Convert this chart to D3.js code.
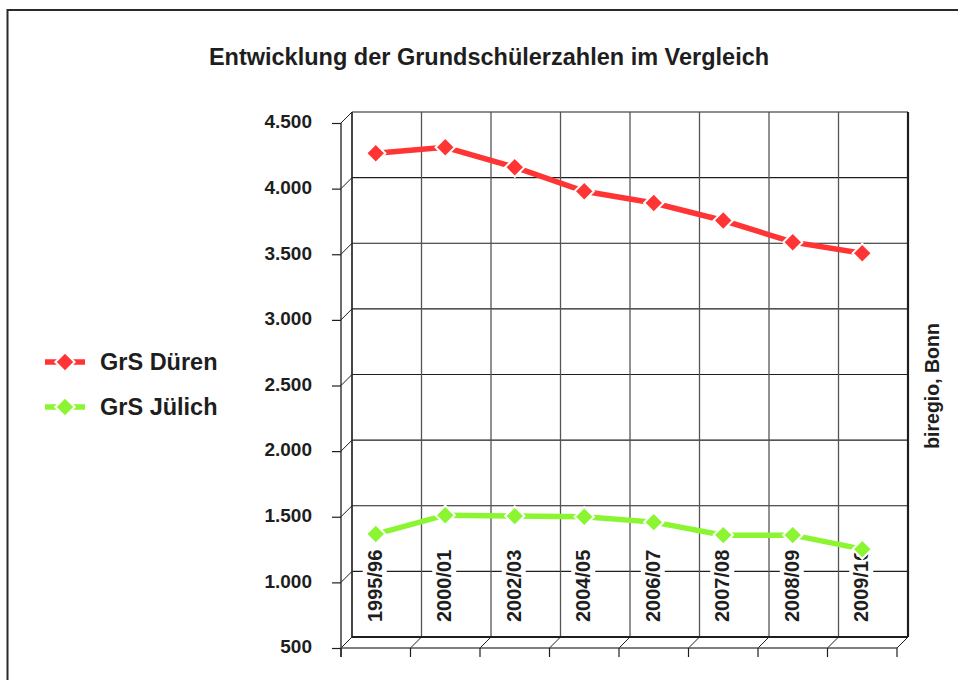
<!DOCTYPE html>
<html>
<head>
<meta charset="utf-8">
<script src="https://cdn.jsdelivr.net/npm/d3@7"></script>
<style>
  html, body { margin: 0; padding: 0; background: #fff; }
  svg { display: block; }
  text { font-family: "Liberation Sans", Arial, sans-serif; font-weight: bold; fill: #1e1e1e; }
</style>
</head>
<body>
<script>
// ---- data ----
const categories = ["1995/96", "2000/01", "2002/03", "2004/05", "2006/07", "2007/08", "2008/09", "2009/10"];
const dueren = [4270, 4315, 4163, 3980, 3890, 3757, 3592, 3508];
const juelich = [1368, 1512, 1505, 1500, 1459, 1360, 1360, 1253];
const seriesNames = ["GrS Düren", "GrS Jülich"];
const seriesColors = ["#ff3535", "#8cf532"];
const yTicks = [500, 1000, 1500, 2000, 2500, 3000, 3500, 4000, 4500];
const title = "Entwicklung der Grundschülerzahlen im Vergleich";
const source = "biregio, Bonn";

// ---- layout ----
const W = 958, H = 680;
const back = { left: 352, right: 908, top: 112, bottom: 637 };
const depth = 11;

const svg = d3.select("body").append("svg").attr("width", W).attr("height", H);
svg.append("rect").attr("width", W).attr("height", H).attr("fill", "#fff");

// outer frame
svg.append("rect").attr("x", 7.5).attr("y", 10).attr("width", 980).attr("height", 700)
  .attr("fill", "none").attr("stroke", "#2a2a2a").attr("stroke-width", 2);

const de = d3.formatLocale({ decimal: ",", thousands: ".", grouping: [3], currency: ["", "€"] });
const fmt = de.format(",");

const x = d3.scaleBand().domain(categories).range([back.left, back.right]);
const y = d3.scaleLinear().domain([500, 4500]).range([back.bottom, back.top]);
const yFront = d3.scaleLinear().domain([500, 4500]).range([back.bottom + depth, back.top + depth]);
const fx = c => x(c) + x.bandwidth() / 2 - depth;

const grid = svg.append("g");
// back wall horizontal gridlines
grid.selectAll("line.h").data(yTicks).join("line")
  .attr("x1", back.left).attr("x2", back.right)
  .attr("y1", d => y(d)).attr("y2", d => y(d))
  .attr("stroke", "#1e1e1e").attr("stroke-width", 1.2);
// back wall vertical gridlines
const bounds = categories.map(c => x(c)).concat([back.right]);
grid.selectAll("line.v").data(bounds).join("line")
  .attr("x1", d => d).attr("x2", d => d)
  .attr("y1", back.top).attr("y2", back.bottom)
  .attr("stroke", (d, i) => i === bounds.length - 1 ? "#1e1e1e" : "#555")
  .attr("stroke-width", (d, i) => i === bounds.length - 1 ? 2.2 : 1.3);
// back bottom edge
grid.append("line").attr("x1", back.left).attr("x2", back.right)
  .attr("y1", back.bottom).attr("y2", back.bottom).attr("stroke", "#1e1e1e").attr("stroke-width", 2.2);
// left wall: back vertical
grid.append("line").attr("x1", back.left).attr("x2", back.left)
  .attr("y1", back.top).attr("y2", back.bottom).attr("stroke", "#1e1e1e").attr("stroke-width", 1.3);
// left wall diagonals
grid.selectAll("line.ld").data(yTicks).join("line")
  .attr("x1", back.left).attr("y1", d => y(d))
  .attr("x2", back.left - depth).attr("y2", d => y(d) + depth)
  .attr("stroke", "#1e1e1e").attr("stroke-width", 1);
// floor diagonals
grid.selectAll("line.fd").data(bounds).join("line")
  .attr("x1", d => d).attr("y1", back.bottom)
  .attr("x2", d => d - depth).attr("y2", back.bottom + depth)
  .attr("stroke", "#1e1e1e").attr("stroke-width", 1);

// front y axis
const yAxis = d3.axisLeft(yFront).tickValues(yTicks).tickFormat(fmt).tickSize(9).tickPadding(20);
const ya = svg.append("g").attr("transform", `translate(${back.left - depth},0)`).call(yAxis);
ya.select(".domain").remove();
ya.selectAll(".tick line").attr("stroke", "#1e1e1e").attr("stroke-width", 1.2);
ya.selectAll(".tick text").attr("font-size", 19).attr("dy", "0.25em")
  .attr("font-family", "Liberation Sans, Arial, sans-serif").attr("font-weight", "bold").attr("fill", "#1e1e1e");
svg.append("line").attr("x1", back.left - depth).attr("x2", back.left - depth)
  .attr("y1", back.top + depth).attr("y2", back.bottom + depth + 9)
  .attr("stroke", "#1e1e1e").attr("stroke-width", 1.3);

// front bottom axis
svg.append("line").attr("x1", back.left - depth).attr("x2", back.right - depth)
  .attr("y1", back.bottom + depth).attr("y2", back.bottom + depth)
  .attr("stroke", "#555").attr("stroke-width", 1.3);
svg.selectAll("line.xt").data(bounds).join("line")
  .attr("x1", d => d - depth).attr("x2", d => d - depth)
  .attr("y1", back.bottom + depth).attr("y2", back.bottom + depth + 9)
  .attr("stroke", "#1e1e1e").attr("stroke-width", 1.2);

// category labels (rotated, white box)
const lab = svg.append("g").selectAll("g").data(categories).join("g")
  .attr("transform", c => `translate(${fx(c) - 1},622) rotate(-90)`);
lab.append("rect").attr("x", -2).attr("y", -12).attr("width", 76).attr("height", 24).attr("fill", "#fff");
lab.append("text").attr("font-size", 20).attr("dy", "0.36em").attr("text-anchor", "start").text(c => c);

// series
const series = [dueren, juelich];
const diamond = d3.symbol().type(d3.symbolSquare).size(185);
series.forEach((vals, si) => {
  const pts = categories.map((c, i) => [fx(c), yFront(vals[i])]);
  svg.append("path").attr("d", d3.line()(pts)).attr("fill", "none")
    .attr("stroke", seriesColors[si]).attr("stroke-width", 5.5);
  svg.append("g").selectAll("path").data(pts).join("path")
    .attr("d", diamond).attr("transform", p => `translate(${p[0]},${p[1]}) rotate(45)`)
    .attr("fill", seriesColors[si]).attr("stroke", "#fff").attr("stroke-width", 2);
});

// legend
const legY = [362, 407];
seriesNames.forEach((name, i) => {
  const g = svg.append("g").attr("transform", `translate(0,${legY[i]})`);
  g.append("line").attr("x1", 45).attr("x2", 85).attr("y1", 0).attr("y2", 0)
    .attr("stroke", seriesColors[i]).attr("stroke-width", 5.5);
  g.append("path").attr("d", diamond).attr("transform", "translate(65,0) rotate(45)")
    .attr("fill", seriesColors[i]).attr("stroke", "#fff").attr("stroke-width", 2);
  g.append("text").attr("x", 100).attr("y", 0).attr("dy", "0.36em").attr("font-size", 23.5).text(name);
});

// title
svg.append("text").attr("x", 489).attr("y", 57).attr("dy", "0.36em").attr("text-anchor", "middle")
  .attr("font-size", 23.5).text(title);

// source
svg.append("text").attr("transform", "translate(932,386) rotate(-90)").attr("dy", "0.36em")
  .attr("text-anchor", "middle").attr("font-size", 19.5).text(source);
</script>
</body>
</html>
